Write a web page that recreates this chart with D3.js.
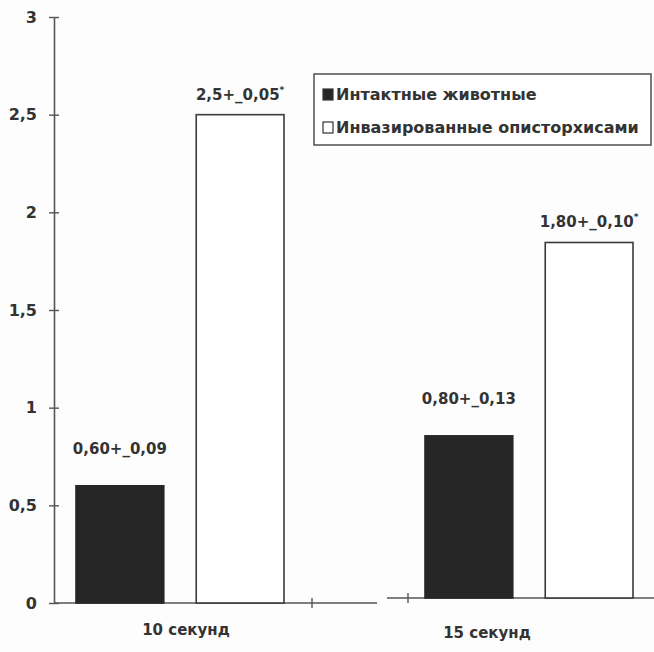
<!DOCTYPE html>
<html>
<head>
<meta charset="utf-8">
<script src="https://cdn.jsdelivr.net/npm/d3@7"></script>
<style>
  body { margin: 0; background: #fdfdfd; }
  text { font-family: "DejaVu Sans", sans-serif; font-weight: bold; fill: #333; }
</style>
</head>
<body>
<div id="chart-area"></div>
<script>
// data
var categories = ["10 секунд", "15 секунд"];
var series = ["Интактные животные", "Инвазированные описторхисами"];
var intact = [0.60, 0.83];
var invaded = [2.5, 1.82];
var valueLabels = [["0,60+_0,09", "2,5+_0,05*"], ["0,80+_0,13", "1,80+_0,10*"]];
var yTicks = [0, 0.5, 1, 1.5, 2, 2.5, 3];

var width = 654, height = 652;
var axisX = 54;
var shift = [0, -5];   // the scan is cut between the groups

var svg = d3.select("#chart-area").append("svg")
    .attr("width", width)
    .attr("height", height);

var y = d3.scaleLinear()
    .domain([0, 3])
    .range([603, 17]);

var x0 = d3.scalePoint()
    .domain(categories)
    .range([180, 529]);

var x1 = d3.scaleBand()
    .domain(series)
    .range([-104, 104])
    .paddingInner(0.27);

// y axis
var leftAxis = d3.axisLeft(y)
    .tickValues(yTicks)
    .tickSize(0)
    .tickPadding(17)
    .tickFormat((d) => String(d).replace(".", ","));

var yAxisGroup = svg.append("g")
    .attr("transform", "translate(" + axisX + ",0)")
    .call(leftAxis);
yAxisGroup.select(".domain").attr("stroke", "#555").attr("stroke-width", 1.6);
yAxisGroup.selectAll(".tick line").remove();
yAxisGroup.selectAll(".tick").append("line")
    .attr("x1", -5).attr("x2", 5)
    .attr("stroke", "#555").attr("stroke-width", 1.4);
yAxisGroup.selectAll(".tick text")
    .attr("font-size", "16px")
    .attr("fill", "#333")
    .attr("font-family", "Liberation Sans, Arial, sans-serif")
    .attr("font-weight", "bold");

// x axis, two pieces
var xPieces = [
    {x1: axisX, x2: 377, tick: 312, dy: shift[0]},
    {x1: 387, x2: 654, tick: 408, dy: shift[1]}
];
xPieces.forEach((p) => {
    svg.append("line")
        .attr("x1", p.x1).attr("x2", p.x2)
        .attr("y1", y(0) + p.dy).attr("y2", y(0) + p.dy)
        .attr("stroke", "#555").attr("stroke-width", 1.6);
    svg.append("line")
        .attr("x1", p.tick).attr("x2", p.tick)
        .attr("y1", y(0) + p.dy - 5).attr("y2", y(0) + p.dy + 5)
        .attr("stroke", "#555").attr("stroke-width", 1.4);
});

var rows = categories.map((c, i) => {
    return [
        {cat: c, ser: series[0], value: intact[i], label: valueLabels[i][0], dy: shift[i]},
        {cat: c, ser: series[1], value: invaded[i], label: valueLabels[i][1], dy: shift[i]}
    ];
});
var bars = rows[0].concat(rows[1]);

svg.selectAll("rect.bar").data(bars).enter().append("rect")
    .attr("class", "bar")
    .attr("x", (d) => x0(d.cat) + x1(d.ser))
    .attr("y", (d) => y(d.value) + d.dy)
    .attr("width", x1.bandwidth())
    .attr("height", (d) => y(0) - y(d.value))
    .attr("fill", (d) => d.ser === series[0] ? "#262626" : "#fff")
    .attr("stroke", (d) => d.ser === series[0] ? "#262626" : "#3a3a3a")
    .attr("stroke-width", 1.6);

// value labels
var labelGap = [32, 15];
var vals = svg.selectAll("text.val").data(bars).enter().append("text")
    .attr("class", "val")
    .attr("x", (d) => x0(d.cat) + x1(d.ser) + x1.bandwidth() / 2)
    .attr("y", (d) => y(d.value) + d.dy - labelGap[series.indexOf(d.ser)])
    .attr("text-anchor", "middle")
    .attr("font-size", "15px");
vals.append("tspan").text((d) => d.label.replace("*", ""));
vals.filter((d) => d.label.indexOf("*") >= 0)
    .append("tspan")
    .attr("font-size", "9px")
    .attr("dy", -7)
    .text("*");

// category labels
var catDx = [6, -42];
var catY = [635, 638];
svg.selectAll("text.cat").data(categories).enter().append("text")
    .attr("class", "cat")
    .attr("x", (d, i) => x0(d) + catDx[i])
    .attr("y", (d, i) => catY[i])
    .attr("text-anchor", "middle")
    .attr("font-size", "15px")
    .text((d) => d);

// legend
var legend = svg.append("g").attr("transform", "translate(314,74)");
legend.append("rect")
    .attr("width", 337).attr("height", 71)
    .attr("fill", "#fff")
    .attr("stroke", "#444").attr("stroke-width", 1.4);
var items = legend.selectAll("g.item").data(series).enter().append("g")
    .attr("class", "item")
    .attr("transform", (d, i) => "translate(9," + (15 + i * 33) + ")");
items.append("rect")
    .attr("width", 10).attr("height", 11)
    .attr("fill", (d, i) => i === 0 ? "#262626" : "#fff")
    .attr("stroke", "#333").attr("stroke-width", 1.2);
items.append("text")
    .attr("x", 13).attr("y", 11)
    .attr("font-size", "16px")
    .text((d) => d);
</script>
</body>
</html>
